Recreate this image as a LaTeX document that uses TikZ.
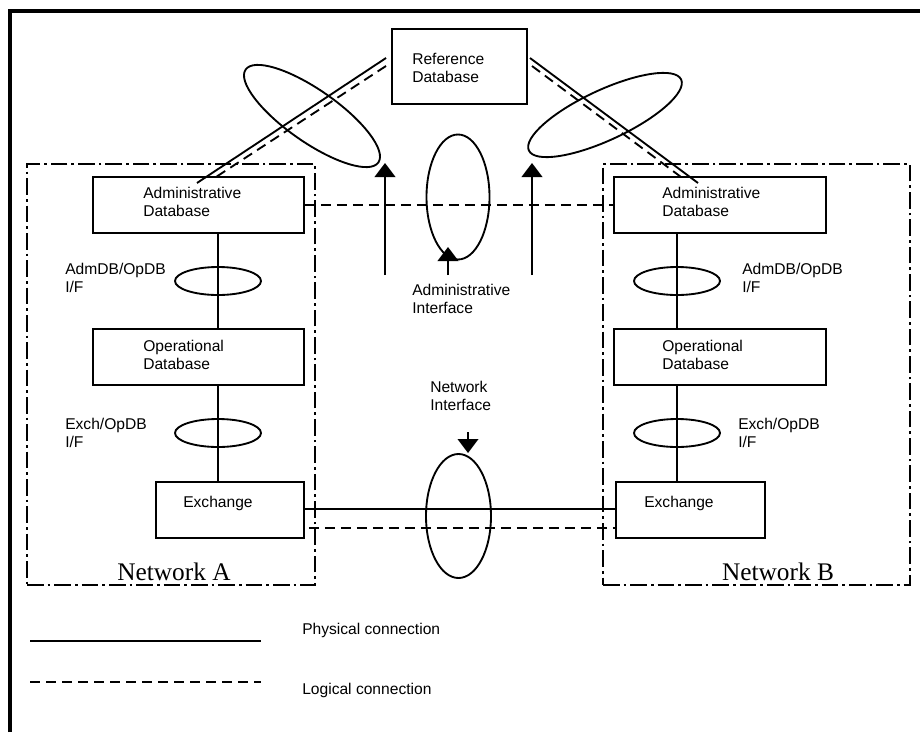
\documentclass[tikz,border=0pt]{standalone}
\usepackage{fontspec}
\setmainfont{Liberation Sans}
\newfontfamily\serifnet{Liberation Serif}
\usetikzlibrary{shapes.geometric,arrows.meta,calc}
\begin{document}
\begin{tikzpicture}[x=0.75pt,y=-0.75pt,
  box/.style={draw,line width=1.4pt,rectangle,inner sep=0pt},
  txt/.style={inner sep=0pt,anchor=west,align=left,font=\fontsize{11.7}{13.5}\selectfont},
  ell/.style={draw,line width=1.4pt,ellipse,inner sep=0pt},
  phys/.style={line width=1.4pt},
  logic/.style={line width=1.4pt,dash pattern=on 7.5pt off 4.5pt},
  dashdot/.style={draw,line width=1.4pt,rectangle,inner sep=0pt,dash pattern=on 12.5pt off 3pt on 2pt off 3pt},
  arr/.style={line width=1.4pt,-{Triangle[width=15.5pt,length=10.5pt]}},
  netlbl/.style={inner sep=0pt,anchor=base,font=\serifnet\fontsize{19}{21}\selectfont}]
\useasboundingbox (0,0) rectangle (920,732);
% outer frame
\draw[line width=2.3pt] (10,732) -- (10,11) -- (920,11);

% network areas
\node[dashdot,minimum width={288*0.75pt},minimum height={421*0.75pt}] (netA) at (171,374.5) {};
\node[dashdot,minimum width={307*0.75pt},minimum height={421*0.75pt}] (netB) at (756.5,374.5) {};
\node[netlbl] (netAlbl) at (174,580) {Network A};
\node[netlbl] (netBlbl) at (778,580) {Network B};

% boxes
\node[box,minimum width={135*0.75pt},minimum height={75*0.75pt}] (refdb) at (459.5,66.5) {};
\node[box,minimum width={211*0.75pt},minimum height={56*0.75pt}] (admL) at (198.5,205) {};
\node[box,minimum width={211*0.75pt},minimum height={56*0.75pt}] (opL) at (198.5,357) {};
\node[box,minimum width={148*0.75pt},minimum height={56*0.75pt}] (exL) at (230,510) {};
\node[box,minimum width={212*0.75pt},minimum height={56*0.75pt}] (admR) at (720,205) {};
\node[box,minimum width={212*0.75pt},minimum height={56*0.75pt}] (opR) at (720,357) {};
\node[box,minimum width={149*0.75pt},minimum height={56*0.75pt}] (exR) at (690.5,510) {};

% box texts
\node[txt] (refdbt) at (412,67.5) {Reference\\Database};
\node[txt] (admLt) at (143,202) {Administrative\\Database};
\node[txt] (opLt) at (143,355) {Operational\\Database};
\node[txt] (exLt) at (183,503) {Exchange};
\node[txt] (admRt) at (662,202) {Administrative\\Database};
\node[txt] (opRt) at (662,355) {Operational\\Database};
\node[txt] (exRt) at (644,503) {Exchange};

% interface ellipses
\node[ell,minimum width={162*0.75pt},minimum height={52*0.75pt},rotate=-35] (ifL) at (312,116) {};
\node[ell,minimum width={168*0.75pt},minimum height={50*0.75pt},rotate=25] (ifR) at (605,115) {};
\node[ell,minimum width={63*0.75pt},minimum height={125*0.75pt}] (ifAdm) at (458,197) {};
\node[ell,minimum width={65*0.75pt},minimum height={124*0.75pt}] (ifNet) at (458.5,516) {};
\node[ell,minimum width={86*0.75pt},minimum height={28*0.75pt}] (eAL) at (218,281) {};
\node[ell,minimum width={86*0.75pt},minimum height={28*0.75pt}] (eXL) at (218,433) {};
\node[ell,minimum width={86*0.75pt},minimum height={28*0.75pt}] (eAR) at (677,281) {};
\node[ell,minimum width={86*0.75pt},minimum height={28*0.75pt}] (eXR) at (677,433) {};

% interface labels
\node[txt] (lAL) at (65,277.5) {AdmDB/OpDB\\I/F};
\node[txt] (lXL) at (65,432.5) {Exch/OpDB\\I/F};
\node[txt] (lAR) at (742,277.5) {AdmDB/OpDB\\I/F};
\node[txt] (lXR) at (738,432.5) {Exch/OpDB\\I/F};
\node[txt] (lAdm) at (412,299) {Administrative\\Interface};
\node[txt] (lNet) at (430,396) {Network\\Interface};

% connections reference <-> administrative
\coordinate (rL1) at (386,58);
\coordinate (rL2) at (386,66);
\coordinate (aL1) at (197,183);
\coordinate (aL2) at (216,177);
\coordinate (rR1) at (530,58);
\coordinate (rR2) at (532,66);
\coordinate (aR1) at (698,183);
\coordinate (aR2) at (681,177);
\draw[phys] (rL1) -- (aL1);
\draw[logic] (rL2) -- (aL2);
\draw[phys] (rR1) -- (aR1);
\draw[logic] (rR2) -- (aR2);

% vertical physical connections
\draw[phys] (eAL |- admL.south) -- (eAL |- opL.north);
\draw[phys] (eXL |- opL.south) -- (eXL |- exL.north);
\draw[phys] (eAR |- admR.south) -- (eAR |- opR.north);
\draw[phys] (eXR |- opR.south) -- (eXR |- exR.north);

% horizontal connections
\draw[logic] (admL.east) -- (admR.west);
\draw[phys] ([yshift=0.75pt]exL.east) -- ([yshift=0.75pt]exR.west);
\draw[logic] ([xshift=3pt,yshift=-13.5pt]exL.east) -- ([xshift=1.5pt,yshift=-13.5pt]exR.west);

% arrows
\coordinate (arL0) at (385,275);
\coordinate (arL1) at (385,163);
\coordinate (arR0) at (532,275);
\coordinate (arR1) at (532,163);
\coordinate (arA0) at (448,275);
\coordinate (arA1) at (448,247);
\coordinate (arN0) at (468,432);
\coordinate (arN1) at (468,453);
\draw[arr] (arL0) -- (arL1);
\draw[arr] (arR0) -- (arR1);
\draw[arr] (arA0) -- (arA1);
\draw[arr] (arN0) -- (arN1);

% legend
\coordinate (lg1a) at (30,641);
\coordinate (lg1b) at (261,641);
\coordinate (lg2a) at (30,682);
\coordinate (lg2b) at (261,682);
\draw[phys] (lg1a) -- (lg1b);
\draw[logic] (lg2a) -- (lg2b);
\node[txt] (lgPhys) at (302,630) {Physical connection};
\node[txt] (lgLog) at (302,690) {Logical connection};
\end{tikzpicture}
\end{document}
